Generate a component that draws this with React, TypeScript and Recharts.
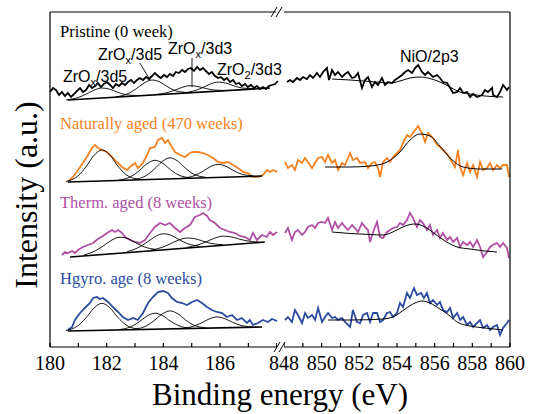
import { LineChart, Line, XAxis, YAxis, ReferenceLine } from 'recharts'

type Pt = [number, number]

// binding energy (eV) ticks for the two halves of the broken axis
const zrTicks = [180, 181, 182, 183, 184, 185, 186, 187, 188]
const zrLabels = [180, 182, 184, 186]
const niTicks = [848, 849, 850, 851, 852, 853, 854, 855, 856, 857, 858, 859, 860]
const niLabels = [848, 850, 852, 854, 856, 858, 860]
const leftTicks = [66, 149, 229, 312]
const rightTicks = [135, 302]

// ---- Pristine (0 week) ----
const pristineZr: Pt[] = [
    [180.00, 255], [180.11, 259], [180.21, 257], [180.32, 252], [180.42, 255], [180.53, 251], [180.63, 254], [180.74, 250],
    [180.85, 253], [180.95, 256], [181.06, 259], [181.16, 255], [181.27, 257], [181.38, 262], [181.48, 259], [181.59, 261],
    [181.69, 264], [181.80, 260], [181.90, 263], [182.01, 265], [182.12, 262], [182.22, 259], [182.33, 263], [182.43, 261],
    [182.54, 264], [182.65, 262], [182.75, 265], [182.86, 267], [182.96, 264], [183.07, 267], [183.17, 269], [183.28, 267],
    [183.39, 270], [183.49, 268], [183.60, 271], [183.70, 274], [183.81, 271], [183.91, 269], [184.02, 272], [184.13, 270],
    [184.23, 273], [184.34, 271], [184.44, 275], [184.55, 274], [184.66, 277], [184.76, 275], [184.87, 278], [184.97, 279],
    [185.08, 276], [185.19, 280], [185.29, 277], [185.40, 279], [185.50, 276], [185.61, 273], [185.71, 275], [185.82, 271],
    [185.93, 269], [186.03, 270], [186.14, 267], [186.24, 269], [186.35, 265], [186.46, 267], [186.56, 263], [186.67, 264],
    [186.77, 261], [186.88, 263], [186.98, 260], [187.09, 262], [187.20, 259], [187.30, 261], [187.41, 258], [187.51, 260],
    [187.62, 258], [187.72, 261], [187.83, 262], [187.94, 263], [188.04, 266],
]
const pristineNi: Pt[] = [
    [848.16, 265], [848.32, 267], [848.48, 265], [848.69, 269], [848.85, 267], [849.01, 270], [849.22, 268], [849.38, 272],
    [849.54, 269], [849.75, 274], [849.91, 270], [850.07, 275], [850.28, 279], [850.39, 267], [850.55, 277], [850.71, 272],
    [850.87, 275], [851.08, 270], [851.24, 273], [851.40, 275], [851.61, 269], [851.77, 270], [851.93, 274], [852.14, 259],
    [852.30, 267], [852.46, 270], [852.67, 260], [852.83, 265], [852.99, 262], [853.20, 269], [853.36, 262], [853.52, 265],
    [853.74, 264], [853.89, 267], [854.05, 269], [854.27, 272], [854.43, 275], [854.59, 277], [854.80, 274], [854.96, 279],
    [855.12, 282], [855.33, 275], [855.49, 272], [855.65, 275], [855.91, 270], [856.13, 272], [856.28, 269], [856.44, 265],
    [856.66, 264], [856.82, 259], [856.98, 254], [857.19, 255], [857.35, 259], [857.51, 254], [857.72, 255], [857.88, 250],
    [858.04, 253], [858.25, 250], [858.51, 252], [858.67, 257], [858.83, 255], [859.05, 259], [859.10, 252], [859.31, 250],
    [859.47, 255], [859.63, 262], [859.84, 257], [859.95, 260],
]
const pristineBg: Pt[] = [[180.63, 247], [187.76, 259]]
const pristinePeakA: Pt[] = [[180.56, 247.1], [180.98, 249.4], [181.27, 252.8], [181.55, 256.8], [181.83, 259.0], [182.11, 257.8], [182.39, 254.7], [182.68, 252.3], [183.10, 251.4]]
const pristinePeakB: Pt[] = [[182.33, 250.2], [182.75, 253.3], [183.04, 258.2], [183.32, 264.0], [183.60, 267.0], [183.88, 265.0], [184.16, 260.0], [184.45, 256.1], [184.87, 254.4]]
const pristinePeakC: Pt[] = [[183.67, 252.2], [184.09, 254.1], [184.38, 256.6], [184.66, 259.6], [184.94, 261.3], [185.22, 260.5], [185.50, 258.5], [185.79, 257.0], [186.21, 256.5]]
const pristinePeakD: Pt[] = [[184.66, 254.0], [185.08, 256.1], [185.37, 259.2], [185.65, 262.9], [185.93, 264.9], [186.21, 263.9], [186.49, 261.1], [186.78, 259.0], [187.20, 258.3]]
const pristineNiFit: Pt[] = [
    [850.55, 268], [851.51, 267], [852.57, 265.5], [853.63, 264], [854.16, 266], [854.69, 269], [855.22, 270],
    [855.75, 268.5], [856.28, 265], [856.82, 260], [857.19, 256], [857.88, 253], [858.67, 251], [859.63, 250],
]

// ---- Naturally aged (470 weeks) ----
const naturalZr: Pt[] = [
    [180.63, 165], [180.81, 170], [180.99, 177], [181.16, 184], [181.34, 192], [181.48, 199], [181.59, 202], [181.69, 199],
    [181.83, 197], [182.01, 195], [182.19, 190], [182.36, 185], [182.54, 180], [182.72, 177], [182.82, 180], [183.00, 184],
    [183.10, 179], [183.28, 184], [183.42, 192], [183.53, 199], [183.70, 200], [183.81, 207], [183.95, 209], [184.06, 204],
    [184.16, 207], [184.30, 200], [184.41, 195], [184.59, 192], [184.76, 190], [184.94, 194], [185.04, 195], [185.22, 195],
    [185.40, 194], [185.57, 192], [185.75, 189], [185.93, 185], [186.10, 184], [186.28, 185], [186.46, 182], [186.63, 179],
    [186.81, 175], [186.98, 174], [187.16, 170], [187.34, 170], [187.51, 172], [187.65, 177], [187.76, 175], [187.87, 177],
    [188.01, 175],
]
const naturalNi: Pt[] = [
    [848.05, 185], [848.21, 179], [848.42, 182], [848.58, 177], [848.74, 187], [848.96, 184], [849.12, 189], [849.27, 185],
    [849.49, 179], [849.65, 184], [849.81, 189], [850.02, 190], [850.18, 185], [850.34, 192], [850.55, 184], [850.71, 187],
    [850.87, 177], [851.08, 184], [851.24, 182], [851.51, 194], [851.66, 187], [851.88, 189], [852.04, 184], [852.30, 185],
    [852.46, 179], [852.67, 184], [852.83, 185], [852.99, 179], [853.10, 170], [853.26, 185], [853.47, 189], [853.63, 185],
    [853.79, 190], [854.00, 194], [854.16, 197], [854.32, 204], [854.53, 212], [854.69, 210], [854.85, 214], [855.12, 221],
    [855.33, 214], [855.49, 205], [855.65, 214], [855.91, 209], [856.13, 202], [856.28, 200], [856.44, 197], [856.71, 192],
    [856.92, 185], [857.08, 180], [857.24, 197], [857.35, 180], [857.51, 172], [857.72, 184], [857.88, 175], [858.04, 182],
    [858.25, 170], [858.41, 185], [858.57, 177], [858.78, 179], [858.94, 184], [859.10, 177], [859.31, 182], [859.47, 179],
    [859.63, 182], [859.84, 182], [859.95, 170],
]
const naturalBg: Pt[] = [[180.63, 165], [187.48, 171]]
const naturalPeakA: Pt[] = [[180.56, 165.5], [180.98, 170.9], [181.27, 180.2], [181.55, 191.5], [181.83, 197.1], [182.11, 192.0], [182.39, 181.1], [182.68, 172.4], [183.10, 167.8]]
const naturalPeakB: Pt[] = [[182.43, 167.0], [182.85, 170.3], [183.14, 176.1], [183.42, 183.2], [183.70, 186.7], [183.98, 183.7], [184.26, 177.1], [184.55, 171.8], [184.97, 169.2]]
const naturalPeakC: Pt[] = [[182.96, 167.4], [183.38, 171.2], [183.67, 177.6], [183.95, 185.3], [184.23, 189.2], [184.51, 185.8], [184.79, 178.5], [185.08, 172.7], [185.50, 169.7]]
const naturalPeakD: Pt[] = [[184.66, 168.8], [185.08, 171.2], [185.37, 175.3], [185.65, 180.2], [185.93, 182.6], [186.21, 180.7], [186.49, 176.2], [186.78, 172.7], [187.20, 171.1]]
const naturalNiFit: Pt[] = [
    [850.18, 180], [851.51, 180], [852.57, 181], [853.36, 184], [854.16, 195], [854.69, 207], [855.22, 213],
    [855.75, 211], [856.28, 201], [856.82, 189], [857.51, 180], [858.41, 178], [859.58, 178],
]

// ---- Therm. aged (8 weeks) ----
const thermZr: Pt[] = [
    [180.42, 92], [180.53, 95], [180.63, 94], [180.78, 96], [180.88, 94], [180.99, 97], [181.16, 100], [181.34, 102],
    [181.52, 104], [181.69, 108], [181.87, 111], [182.01, 114], [182.19, 117], [182.29, 115], [182.40, 117], [182.54, 114],
    [182.65, 110], [182.82, 107], [183.00, 105], [183.17, 104], [183.35, 107], [183.53, 114], [183.70, 120], [183.88, 124],
    [184.06, 122], [184.23, 124], [184.41, 119], [184.59, 115], [184.76, 119], [184.94, 122], [185.11, 130], [185.29, 132],
    [185.40, 134], [185.54, 131], [185.64, 127], [185.82, 124], [186.00, 119], [186.17, 117], [186.35, 115], [186.53, 114],
    [186.70, 111], [186.88, 110], [187.05, 107], [187.16, 114], [187.30, 107], [187.48, 112], [187.65, 110], [187.76, 115],
    [187.87, 112], [188.01, 115],
]
const thermNi: Pt[] = [
    [848.05, 114], [848.21, 119], [848.42, 107], [848.58, 115], [848.74, 117], [848.96, 112], [849.12, 115], [849.27, 120],
    [849.49, 122], [849.65, 119], [849.81, 124], [850.02, 125], [850.18, 124], [850.34, 129], [850.55, 117], [850.71, 125],
    [850.87, 119], [851.08, 124], [851.24, 120], [851.40, 117], [851.61, 122], [851.77, 119], [851.93, 115], [852.14, 124],
    [852.30, 120], [852.46, 117], [852.57, 105], [852.73, 115], [852.94, 125], [853.10, 110], [853.26, 109], [853.47, 115],
    [853.63, 117], [853.79, 119], [854.00, 120], [854.16, 124], [854.32, 122], [854.53, 127], [854.69, 134], [854.85, 129],
    [855.06, 120], [855.22, 127], [855.38, 124], [855.59, 117], [855.75, 122], [855.91, 112], [856.13, 117], [856.28, 109],
    [856.44, 114], [856.66, 107], [856.82, 110], [856.98, 105], [857.19, 109], [857.35, 100], [857.51, 105], [857.72, 102],
    [857.88, 105], [858.04, 100], [858.25, 107], [858.41, 100], [858.57, 90], [858.78, 95], [858.94, 100], [859.10, 102],
    [859.31, 104], [859.47, 100], [859.63, 104], [859.84, 99], [859.95, 89],
]
const thermBg: Pt[] = [[180.71, 90], [187.58, 105]]
const thermPeakA: Pt[] = [[181.20, 92.0], [181.62, 96.5], [181.91, 101.7], [182.19, 107.1], [182.47, 109.8], [182.75, 108.4], [183.03, 104.2], [183.32, 100.2], [183.74, 97.5]]
const thermPeakB: Pt[] = [[182.72, 95.3], [183.14, 99.8], [183.43, 105.0], [183.71, 110.4], [183.99, 113.2], [184.27, 111.7], [184.55, 107.5], [184.84, 103.5], [185.26, 100.8]]
const thermPeakC: Pt[] = [[183.56, 96.8], [183.98, 99.9], [184.27, 103.5], [184.55, 107.1], [184.83, 109.0], [185.11, 108.3], [185.39, 105.9], [185.68, 103.6], [186.10, 102.4]]
const thermPeakD: Pt[] = [[184.83, 99.5], [185.25, 102.4], [185.54, 105.6], [185.82, 109.0], [186.10, 110.8], [186.38, 110.2], [186.66, 108.1], [186.95, 106.1], [187.37, 105.0]]
const thermNiFit: Pt[] = [
    [850.55, 115], [851.51, 113.5], [852.57, 112.5], [853.26, 112], [853.89, 116], [854.43, 121], [854.96, 123],
    [855.49, 120], [856.02, 113], [856.55, 106], [857.19, 100], [857.88, 98], [858.67, 96], [859.31, 95],
]

// ---- Hgyro. age (8 weeks) ----
const hygroZr: Pt[] = [
    [180.63, 17], [180.78, 20], [180.88, 27], [181.06, 34], [181.23, 39], [181.41, 44], [181.52, 49], [181.66, 50],
    [181.76, 48], [181.87, 49], [182.05, 45], [182.22, 40], [182.40, 35], [182.57, 30], [182.75, 27], [182.93, 29],
    [183.10, 27], [183.28, 34], [183.46, 44], [183.63, 50], [183.81, 55], [183.99, 56], [184.16, 54], [184.30, 49],
    [184.48, 45], [184.66, 44], [184.83, 42], [185.01, 45], [185.19, 47], [185.36, 44], [185.54, 40], [185.71, 37],
    [185.89, 35], [186.07, 34], [186.24, 30], [186.42, 32], [186.60, 27], [186.77, 29], [186.95, 24], [187.05, 27],
    [187.16, 22], [187.34, 24], [187.51, 27], [187.69, 25], [187.83, 28], [188.01, 26],
]
const hygroNi: Pt[] = [
    [848.05, 27], [848.21, 30], [848.42, 25], [848.58, 37], [848.74, 32], [848.96, 24], [849.12, 34], [849.27, 29],
    [849.49, 32], [849.65, 27], [849.81, 39], [850.02, 25], [850.18, 30], [850.34, 34], [850.55, 29], [850.71, 30],
    [850.87, 27], [851.08, 29], [851.24, 25], [851.51, 20], [851.66, 37], [851.88, 25], [852.04, 24], [852.20, 32],
    [852.41, 34], [852.57, 25], [852.73, 34], [852.94, 34], [853.10, 25], [853.26, 27], [853.47, 34], [853.63, 35],
    [853.79, 30], [854.00, 34], [854.16, 44], [854.32, 40], [854.53, 54], [854.69, 49], [854.90, 59], [855.06, 52],
    [855.28, 54], [855.43, 49], [855.59, 54], [855.75, 44], [855.91, 47], [856.13, 42], [856.28, 45], [856.44, 37],
    [856.66, 35], [856.82, 39], [856.98, 29], [857.19, 34], [857.35, 27], [857.51, 30], [857.72, 22], [857.88, 25],
    [858.04, 20], [858.25, 24], [858.41, 27], [858.57, 19], [858.78, 22], [858.94, 17], [859.10, 20], [859.31, 22],
    [859.47, 12], [859.63, 19], [859.84, 24], [859.95, 27],
]
const hygroBg: Pt[] = [[180.63, 16], [187.48, 20]]
const hygroPeakA: Pt[] = [[180.56, 16.5], [180.98, 21.1], [181.27, 29.1], [181.55, 38.9], [181.83, 43.7], [182.11, 39.3], [182.39, 29.7], [182.68, 22.1], [183.10, 17.9]]
const hygroPeakB: Pt[] = [[182.43, 17.4], [182.85, 20.2], [183.14, 25.0], [183.42, 30.9], [183.70, 33.8], [183.98, 31.3], [184.26, 25.6], [184.55, 21.2], [184.97, 18.8]]
const hygroPeakC: Pt[] = [[182.96, 17.8], [183.38, 20.8], [183.67, 26.3], [183.95, 32.8], [184.23, 36.1], [184.51, 33.2], [184.79, 26.9], [185.08, 21.8], [185.50, 19.2]]
const hygroPeakD: Pt[] = [[184.62, 18.5], [185.04, 20.6], [185.33, 23.9], [185.61, 28.0], [185.89, 30.1], [186.17, 28.3], [186.45, 24.6], [186.74, 21.6], [187.16, 20.0]]
const hygroNiFit: Pt[] = [
    [850.34, 27], [851.51, 27], [853.26, 28], [853.89, 31], [854.43, 38], [854.96, 44], [855.33, 46],
    [855.75, 44], [856.28, 38], [856.82, 31], [857.19, 25], [857.88, 21], [858.67, 19], [859.63, 17],
]

const samples = [
    { key: 'pristine', label: 'Pristine (0 week)', color: '#000000', zr: pristineZr, ni: pristineNi, bg: pristineBg, peaks: [pristinePeakA, pristinePeakB, pristinePeakC, pristinePeakD], niFit: pristineNiFit, labelY: 37 },
    { key: 'natural', label: 'Naturally aged (470 weeks)', color: '#F58220', zr: naturalZr, ni: naturalNi, bg: naturalBg, peaks: [naturalPeakA, naturalPeakB, naturalPeakC, naturalPeakD], niFit: naturalNiFit, labelY: 129 },
    { key: 'therm', label: 'Therm. aged (8 weeks)', color: '#B04FA3', zr: thermZr, ni: thermNi, bg: thermBg, peaks: [thermPeakA, thermPeakB, thermPeakC, thermPeakD], niFit: thermNiFit, labelY: 208 },
    { key: 'hygro', label: 'Hgyro. age (8 weeks)', color: '#2A4B9F', zr: hygroZr, ni: hygroNi, bg: hygroBg, peaks: [hygroPeakA, hygroPeakB, hygroPeakC, hygroPeakD], niFit: hygroNiFit, labelY: 284 },
]

const toRows = (pts: Pt[]) => pts.map(([e, i]) => ({ e, i }))

const serif = "'Liberation Serif', 'Times New Roman', serif"
const sans = "'Liberation Sans', Arial, sans-serif"
const axisStroke = { stroke: '#000', strokeWidth: 1.2 }
const tickFont = { fontSize: 20, fill: '#000', style: { fontFamily: serif } }

export default function App() {
    return (
        <div style={{ position: 'absolute', left: 0, top: 0, width: 539, height: 414, background: '#fff', fontFamily: serif }}>
            {/* ZrOx 3d half */}
            <div style={{ position: 'absolute', left: 0, top: 0 }}>
                <LineChart width={539} height={414} margin={{ top: 10, right: 259.4, bottom: 37, left: 49 }} style={{ fontFamily: serif }}>
                    <XAxis
                        dataKey="e"
                        type="number"
                        domain={[180, 188.1]}
                        allowDataOverflow
                        ticks={zrTicks}
                        interval={0}
                        height={30}
                        tickSize={-4}
                        tickMargin={13}
                        axisLine={axisStroke}
                        tickLine={axisStroke}
                        tick={tickFont}
                        tickFormatter={(v) => (zrLabels.includes(v) ? String(v) : '')}
                    />
                    <XAxis
                        xAxisId="top"
                        orientation="top"
                        type="number"
                        domain={[180, 188.1]}
                        allowDataOverflow
                        ticks={zrTicks}
                        interval={0}
                        height={2}
                        tickSize={-4}
                        axisLine={axisStroke}
                        tickLine={axisStroke}
                        tick={false}
                    />
                    <YAxis
                        type="number"
                        domain={[0, 335]}
                        allowDataOverflow
                        ticks={leftTicks}
                        interval={0}
                        width={1}
                        tickSize={-4}
                        axisLine={axisStroke}
                        tickLine={axisStroke}
                        tick={false}
                    />
                    {samples.map((s) => (
                        <Line key={s.key + '-zr'} data={toRows(s.zr)} dataKey="i" type="linear" stroke={s.color} strokeWidth={1.8} dot={false} isAnimationActive={false} />
                    ))}
                    {samples.map((s) => (
                        <Line key={s.key + '-bg'} data={toRows(s.bg)} dataKey="i" type="linear" stroke="#000" strokeWidth={1.6} dot={false} isAnimationActive={false} />
                    ))}
                    {samples.flatMap((s) =>
                        s.peaks.map((p, k) => (
                            <Line key={s.key + '-pk' + k} data={toRows(p)} dataKey="i" type="monotone" stroke="#000" strokeWidth={0.9} dot={false} isAnimationActive={false} />
                        ))
                    )}
                    <ReferenceLine segment={[{ x: 183.17, y: 284 }, { x: 183.53, y: 267 }]} stroke="#000" strokeWidth={0.9} ifOverflow="visible" />
                    <ReferenceLine segment={[{ x: 185.01, y: 289 }, { x: 185.01, y: 260 }]} stroke="#000" strokeWidth={0.9} ifOverflow="visible" />
                </LineChart>
            </div>

            {/* NiO 2p half */}
            <div style={{ position: 'absolute', left: 0, top: 0 }}>
                <LineChart width={539} height={414} margin={{ top: 10, right: 28, bottom: 37, left: 284 }} style={{ fontFamily: serif }}>
                    <XAxis
                        dataKey="e"
                        type="number"
                        domain={[848, 860]}
                        allowDataOverflow
                        ticks={niTicks}
                        interval={0}
                        height={30}
                        tickSize={-4}
                        tickMargin={13}
                        axisLine={axisStroke}
                        tickLine={axisStroke}
                        tick={tickFont}
                        tickFormatter={(v) => (niLabels.includes(v) ? String(v) : '')}
                    />
                    <XAxis
                        xAxisId="top"
                        orientation="top"
                        type="number"
                        domain={[848, 860]}
                        allowDataOverflow
                        ticks={niTicks}
                        interval={0}
                        height={2}
                        tickSize={-4}
                        axisLine={axisStroke}
                        tickLine={axisStroke}
                        tick={false}
                    />
                    <YAxis
                        orientation="right"
                        type="number"
                        domain={[0, 335]}
                        allowDataOverflow
                        ticks={rightTicks}
                        interval={0}
                        width={1}
                        tickSize={-4}
                        axisLine={axisStroke}
                        tickLine={axisStroke}
                        tick={false}
                    />
                    {samples.map((s) => (
                        <Line key={s.key + '-ni'} data={toRows(s.ni)} dataKey="i" type="linear" stroke={s.color} strokeWidth={1.8} dot={false} isAnimationActive={false} />
                    ))}
                    {samples.map((s) => (
                        <Line key={s.key + '-nifit'} data={toRows(s.niFit)} dataKey="i" type="monotone" stroke="#000" strokeWidth={1} dot={false} isAnimationActive={false} />
                    ))}
                </LineChart>
            </div>

            {/* titles, sample labels, peak labels and axis break marks */}
            <svg width={539} height={414} style={{ position: 'absolute', left: 0, top: 0, pointerEvents: 'none' }}>
                <rect x={276} y={8} width={8} height={8} fill="#fff" />
                <rect x={277} y={343} width={7} height={8} fill="#fff" />
                <line x1={271} y1={17} x2={277} y2={7} stroke="#000" strokeWidth={1} />
                <line x1={276} y1={17} x2={282} y2={7} stroke="#000" strokeWidth={1} />
                <line x1={274} y1={352} x2={280} y2={342} stroke="#000" strokeWidth={1} />
                <line x1={279} y1={352} x2={285} y2={342} stroke="#000" strokeWidth={1} />

                <text x={37} y={195} transform="rotate(-90 37 195)" textAnchor="middle" style={{ fontFamily: serif }} fontSize={32} fill="#000">
                    Intensity (a.u.)
                </text>
                <text x={280} y={405} textAnchor="middle" style={{ fontFamily: serif }} fontSize={31} fill="#000">
                    Binding energy (eV)
                </text>

                {samples.map((s) => (
                    <text key={s.key + '-label'} x={60} y={s.labelY} style={{ fontFamily: serif }} fontSize={16.5} fill={s.color}>
                        {s.label}
                    </text>
                ))}

                <g style={{ fontFamily: sans }} fontSize={16} fill="#000">
                    <text x={63} y={82}>ZrO<tspan dy={4} fontSize={11}>x</tspan><tspan dy={-4}>/3d5</tspan></text>
                    <text x={98} y={60}>ZrO<tspan dy={4} fontSize={11}>x</tspan><tspan dy={-4}>/3d5</tspan></text>
                    <text x={168} y={54}>ZrO<tspan dy={4} fontSize={11}>x</tspan><tspan dy={-4}>/3d3</tspan></text>
                    <text x={217} y={75}>ZrO<tspan dy={4} fontSize={11}>2</tspan><tspan dy={-4}>/3d3</tspan></text>
                    <text x={400} y={62}>NiO/2p3</text>
                </g>
            </svg>
        </div>
    )
}
